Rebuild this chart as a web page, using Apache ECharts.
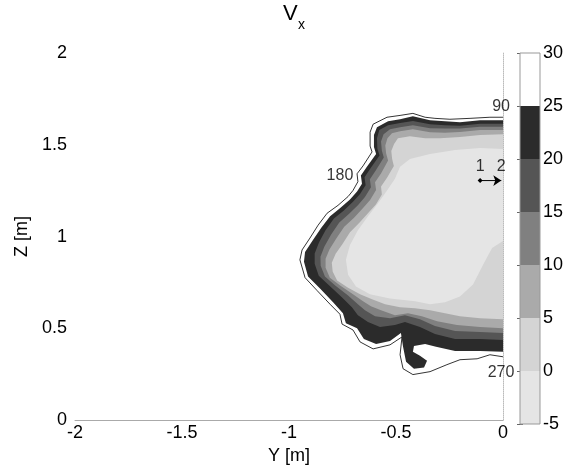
<!DOCTYPE html>
<html>
<head>
<meta charset="utf-8">
<script src="https://cdn.jsdelivr.net/npm/echarts/dist/echarts.min.js"></script>
<style>
html, body { margin: 0; padding: 0; background: #fff; }
#chart { width: 572px; height: 470px; }
</style>
</head>
<body>
<div id="chart"></div>
<script>
// axis ticks
var yTicks = [-2, -1.5, -1, -0.5, 0]
var zTicks = [0, 0.5, 1, 1.5, 2]

// colour bar: band edges and grey levels
var cbEdges = [-5, 0, 5, 10, 15, 20, 25, 30]
var cbColors = ['#e5e5e5', '#d4d4d4', '#aaaaaa', '#808080', '#555555', '#2b2b2b', '#ffffff']

// contour outline (thin black line), [Y, Z]
var outline = [
	[0, 1.650], [-0.061, 1.650], [-0.154, 1.644], [-0.248, 1.639], [-0.318, 1.644], [-0.364, 1.650],
	[-0.421, 1.671], [-0.481, 1.660], [-0.542, 1.650], [-0.607, 1.612], [-0.621, 1.569], [-0.621, 1.493],
	[-0.612, 1.461], [-0.654, 1.385], [-0.682, 1.342], [-0.678, 1.299], [-0.701, 1.251], [-0.724, 1.218],
	[-0.771, 1.170], [-0.822, 1.127], [-0.864, 1.062], [-0.902, 0.992], [-0.939, 0.927], [-0.949, 0.873],
	[-0.925, 0.776], [-0.869, 0.706], [-0.808, 0.631], [-0.762, 0.577], [-0.752, 0.523], [-0.701, 0.491],
	[-0.668, 0.426], [-0.607, 0.388], [-0.528, 0.410], [-0.472, 0.453], [-0.481, 0.356], [-0.467, 0.280],
	[-0.421, 0.248], [-0.341, 0.264], [-0.262, 0.302], [-0.201, 0.329], [-0.121, 0.334], [-0.061, 0.356],
	[0, 0.345]
]

// filled bands, outermost first (20..25, 15..20, 10..15, 5..10, 0..5, -5..0)
var band20 = [
	[0, 1.633], [-0.107, 1.633], [-0.201, 1.623], [-0.271, 1.628], [-0.341, 1.633], [-0.421, 1.655],
	[-0.481, 1.639], [-0.537, 1.628], [-0.589, 1.596], [-0.603, 1.553], [-0.603, 1.488], [-0.593, 1.450],
	[-0.636, 1.380], [-0.664, 1.332], [-0.659, 1.288], [-0.682, 1.245], [-0.715, 1.202], [-0.762, 1.154],
	[-0.808, 1.111], [-0.850, 1.046], [-0.888, 0.981], [-0.925, 0.916], [-0.930, 0.863], [-0.911, 0.782],
	[-0.855, 0.717], [-0.794, 0.642], [-0.748, 0.582], [-0.734, 0.528], [-0.682, 0.501], [-0.650, 0.442],
	[-0.593, 0.415], [-0.528, 0.431], [-0.477, 0.474], [-0.467, 0.399], [-0.453, 0.318], [-0.416, 0.280],
	[-0.369, 0.286], [-0.355, 0.323], [-0.388, 0.350], [-0.421, 0.372], [-0.416, 0.404], [-0.364, 0.415],
	[-0.313, 0.399], [-0.224, 0.377], [-0.107, 0.377], [0, 0.372]
]
var band15 = [
	[0, 1.615], [-0.107, 1.615], [-0.201, 1.604], [-0.271, 1.606], [-0.341, 1.612], [-0.421, 1.630],
	[-0.481, 1.618], [-0.537, 1.607], [-0.578, 1.580], [-0.589, 1.535], [-0.587, 1.479], [-0.577, 1.441],
	[-0.619, 1.372], [-0.647, 1.323], [-0.642, 1.280], [-0.668, 1.232], [-0.701, 1.189], [-0.745, 1.141],
	[-0.790, 1.098], [-0.830, 1.033], [-0.860, 0.967], [-0.880, 0.908], [-0.880, 0.852], [-0.861, 0.787],
	[-0.812, 0.733], [-0.752, 0.668], [-0.706, 0.615], [-0.678, 0.571], [-0.631, 0.534], [-0.575, 0.507],
	[-0.505, 0.518], [-0.458, 0.534], [-0.388, 0.507], [-0.318, 0.469], [-0.224, 0.442], [-0.107, 0.442],
	[0, 0.437]
]
var band10 = [
	[0, 1.598], [-0.107, 1.598], [-0.201, 1.588], [-0.271, 1.588], [-0.341, 1.590], [-0.421, 1.606],
	[-0.481, 1.595], [-0.528, 1.585], [-0.558, 1.558], [-0.570, 1.518], [-0.566, 1.468], [-0.557, 1.431],
	[-0.594, 1.361], [-0.622, 1.312], [-0.617, 1.269], [-0.645, 1.215], [-0.677, 1.172], [-0.719, 1.124],
	[-0.765, 1.076], [-0.803, 1.011], [-0.835, 0.945], [-0.853, 0.890], [-0.852, 0.841], [-0.832, 0.782],
	[-0.784, 0.733], [-0.724, 0.679], [-0.678, 0.631], [-0.645, 0.598], [-0.598, 0.566], [-0.528, 0.555],
	[-0.458, 0.571], [-0.388, 0.550], [-0.318, 0.512], [-0.224, 0.485], [-0.107, 0.480], [0, 0.474]
]
var band5 = [
	[0, 1.580], [-0.107, 1.580], [-0.201, 1.569], [-0.271, 1.566], [-0.341, 1.568], [-0.421, 1.585],
	[-0.481, 1.574], [-0.519, 1.563], [-0.540, 1.535], [-0.550, 1.496], [-0.546, 1.452], [-0.537, 1.414],
	[-0.570, 1.344], [-0.598, 1.296], [-0.593, 1.253], [-0.621, 1.199], [-0.654, 1.156], [-0.696, 1.102],
	[-0.742, 1.053], [-0.779, 0.989], [-0.811, 0.929], [-0.829, 0.879], [-0.829, 0.830], [-0.809, 0.776],
	[-0.761, 0.733], [-0.701, 0.685], [-0.654, 0.647], [-0.617, 0.620], [-0.570, 0.598], [-0.505, 0.571],
	[-0.444, 0.582], [-0.379, 0.566], [-0.308, 0.539], [-0.215, 0.518], [-0.107, 0.507], [0, 0.501]
]
var band0 = [
	[0, 1.558], [-0.107, 1.553], [-0.201, 1.542], [-0.294, 1.536], [-0.364, 1.536], [-0.435, 1.547],
	[-0.491, 1.536], [-0.509, 1.504], [-0.522, 1.466], [-0.518, 1.423], [-0.510, 1.385], [-0.542, 1.321],
	[-0.570, 1.272], [-0.566, 1.229], [-0.594, 1.175], [-0.627, 1.132], [-0.669, 1.078], [-0.715, 1.024],
	[-0.750, 0.960], [-0.782, 0.906], [-0.800, 0.857], [-0.796, 0.809], [-0.775, 0.760], [-0.726, 0.722],
	[-0.668, 0.685], [-0.612, 0.658], [-0.551, 0.631], [-0.481, 0.615], [-0.411, 0.609], [-0.341, 0.598],
	[-0.271, 0.582], [-0.201, 0.566], [-0.107, 0.555], [0, 0.550]
]
var bandM5 = [
	[0, 1.477], [-0.107, 1.483], [-0.224, 1.472], [-0.341, 1.450], [-0.435, 1.423], [-0.481, 1.380],
	[-0.505, 1.315], [-0.542, 1.251], [-0.584, 1.181], [-0.631, 1.111], [-0.678, 1.035], [-0.715, 0.954],
	[-0.734, 0.873], [-0.724, 0.792], [-0.687, 0.728], [-0.622, 0.685], [-0.528, 0.663], [-0.411, 0.647],
	[-0.341, 0.631], [-0.271, 0.642], [-0.201, 0.674], [-0.140, 0.739], [-0.093, 0.846], [-0.051, 0.938],
	[0, 0.976]
]
var bandPolys = [band20, band15, band10, band5, band0, bandM5]
var bandColors = ['#2b2b2b', '#555555', '#808080', '#aaaaaa', '#d4d4d4', '#e5e5e5']

// angle labels and probe points
var angleLabels = [
	{ name: '90', value: [-0.009, 1.709] },
	{ name: '180', value: [-0.762, 1.332] },
	{ name: '270', value: [-0.009, 0.259] }
]
var probe = [
	{ name: '1', value: [-0.107, 1.305] },
	{ name: '2', value: [-0.008, 1.305] }
]

var font = 'Liberation Sans, Arial, sans-serif'
var chart = echarts.init(document.getElementById('chart'))

chart.setOption({
	animation: false,
	graphic: [
		{ type: 'text', left: 283, top: 3, style: { text: 'V', font: '22px ' + font, fill: '#000' } },
		{ type: 'text', left: 298, top: 18, style: { text: 'x', font: '14px ' + font, fill: '#000' } }
	],
	grid: [
		{ left: 75, top: 53, width: 428, height: 371 },
		{ left: 520, top: 53, width: 20, height: 371 }
	],
	xAxis: [
		{
			type: 'value', gridIndex: 0, min: yTicks[0], max: yTicks[yTicks.length - 1], interval: 0.5,
			name: 'Y [m]', nameLocation: 'middle', nameGap: 25,
			nameTextStyle: { fontSize: 18, color: '#000', fontFamily: font },
			axisLine: { lineStyle: { color: '#aaaaaa' } },
			axisTick: { show: false },
			splitLine: { show: false },
			axisLabel: { fontSize: 18, color: '#000', fontFamily: font, margin: 4 }
		},
		{ type: 'value', gridIndex: 1, min: 0, max: 1, show: false }
	],
	yAxis: [
		{
			type: 'value', gridIndex: 0, min: zTicks[0], max: zTicks[zTicks.length - 1], interval: 0.5,
			name: 'Z [m]', nameLocation: 'middle', nameGap: 40,
			nameTextStyle: { fontSize: 18, color: '#000', fontFamily: font },
			axisLine: { show: true, lineStyle: { color: '#bbbbbb', type: 'dotted' } },
			axisTick: { show: false },
			splitLine: { show: false },
			axisLabel: { fontSize: 18, color: '#000', fontFamily: font, margin: 8 }
		},
		{
			type: 'value', gridIndex: 1, position: 'right', min: -5, max: 30, interval: 5,
			axisLine: { show: false },
			axisTick: { show: true, inside: true, length: 3, lineStyle: { color: '#666' } },
			splitLine: { show: false },
			axisLabel: { fontSize: 18, color: '#000', fontFamily: font, margin: 3 }
		},
		{
			type: 'value', gridIndex: 1, position: 'left', min: -5, max: 30, interval: 5,
			axisLine: { show: false },
			axisTick: { show: true, inside: true, length: 3, lineStyle: { color: '#666' } },
			splitLine: { show: false },
			axisLabel: { show: false }
		}
	],
	series: [
		{
			type: 'line', xAxisIndex: 0, yAxisIndex: 0, data: outline,
			symbol: 'none', z: 1,
			lineStyle: { color: '#000', width: 0.8 }
		},
		{
			type: 'custom', xAxisIndex: 0, yAxisIndex: 0, z: 2, clip: true,
			data: bandPolys.map(function (p) { return p[0] }),
			renderItem: function (params, api) {
				var pts = bandPolys[params.dataIndex].map(function (p) { return api.coord(p) })
				return { type: 'polygon', shape: { points: pts }, style: { fill: bandColors[params.dataIndex] } }
			}
		},
		{
			type: 'line', xAxisIndex: 0, yAxisIndex: 0, z: 5,
			data: [
				{ value: probe[0].value, symbol: 'diamond', symbolSize: 5 },
				{ value: probe[1].value, symbol: 'arrow', symbolSize: 8, symbolRotate: -90 }
			],
			lineStyle: { color: '#000', width: 1 },
			itemStyle: { color: '#000' }
		},
		{
			type: 'scatter', xAxisIndex: 0, yAxisIndex: 0, z: 6,
			data: probe, symbolSize: 1,
			itemStyle: { color: 'rgba(0,0,0,0)' },
			label: {
				show: true, position: 'top', distance: 5, formatter: '{b}',
				fontSize: 16, color: '#000', fontFamily: font
			}
		},
		{
			type: 'scatter', xAxisIndex: 0, yAxisIndex: 0, z: 6,
			data: angleLabels, symbolSize: 1,
			itemStyle: { color: 'rgba(0,0,0,0)' },
			label: {
				show: true, position: 'inside', formatter: '{b}',
				fontSize: 16, color: '#000', fontFamily: font
			}
		},
		{
			type: 'custom', xAxisIndex: 1, yAxisIndex: 1, z: 2,
			data: cbColors.map(function (c, i) { return [0.5, (cbEdges[i] + cbEdges[i + 1]) / 2] }),
			renderItem: function (params, api) {
				var i = params.dataIndex
				var a = api.coord([0, cbEdges[i]])
				var b = api.coord([1, cbEdges[i + 1]])
				return {
					type: 'rect',
					shape: { x: a[0], y: b[1], width: b[0] - a[0], height: a[1] - b[1] },
					style: { fill: cbColors[i] }
				}
			}
		},
		{
			type: 'custom', xAxisIndex: 1, yAxisIndex: 1, z: 3,
			data: [[0.5, 12.5]],
			renderItem: function (params, api) {
				var a = api.coord([0, cbEdges[0]])
				var b = api.coord([1, cbEdges[cbEdges.length - 1]])
				return {
					type: 'rect',
					shape: { x: a[0], y: b[1], width: b[0] - a[0], height: a[1] - b[1] },
					style: { fill: 'none', stroke: '#999', lineWidth: 1 }
				}
			}
		}
	]
})
</script>
</body>
</html>
